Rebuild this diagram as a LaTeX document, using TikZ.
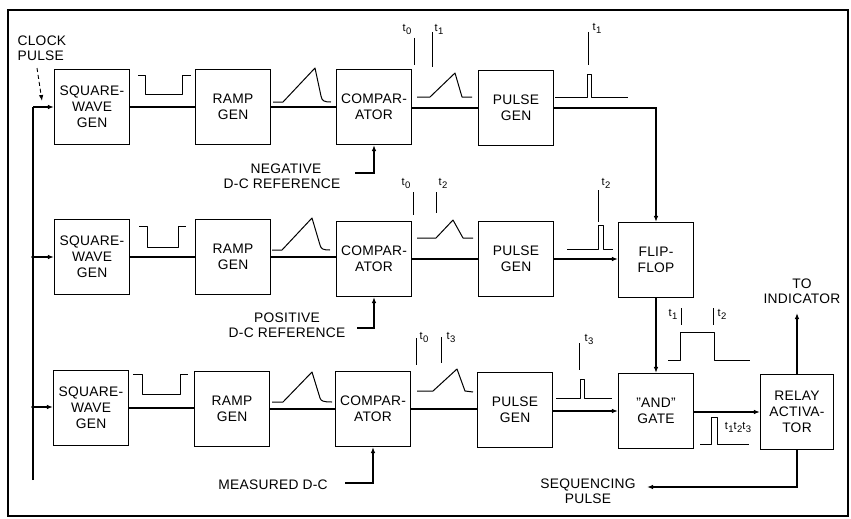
\documentclass[tikz,border=0pt]{standalone}
\usepackage{fontspec}
\setmainfont{Liberation Sans}[LetterSpace=2]
\usetikzlibrary{arrows.meta}
\newcommand\tlab[1]{t\kern0.4pt\raisebox{-3pt}{\fontsize{9.5}{9.5}\selectfont #1}}
\begin{document}
\begin{tikzpicture}[x=1pt,y=-1pt, line width=1.1pt,
 box/.style={draw, minimum width=75pt, minimum height=75pt, align=center, inner sep=0pt, font=\fontsize{13.8}{15.8}\selectfont},
 lbl/.style={align=center, inner sep=0pt, font=\fontsize{13.8}{15.5}\selectfont},
 tl/.style={inner sep=0pt, font=\fontsize{11}{11}\selectfont},
 wave/.style={line width=1pt, line join=round},
 arr/.style={-{Latex[length=6pt,width=4.5pt]}}]
\useasboundingbox (0,0) rectangle (851,519);
\draw[line width=1.8pt] (8,10) rectangle (848,516);
% row 1
\node[box] (sq1) at (92,107) {SQUARE-\\WAVE\\GEN};
\node[box] (ramp1) at (233,107) {RAMP\\GEN};
\node[box] (comp1) at (374,107) {COMPAR-\\ATOR};
\node[box] (pulse1) at (516,108) {PULSE\\GEN};
% row 2
\node[box] (sq2) at (92,257) {SQUARE-\\WAVE\\GEN};
\node[box] (ramp2) at (233,257) {RAMP\\GEN};
\node[box] (comp2) at (374,259) {COMPAR-\\ATOR};
\node[box] (pulse2) at (516,259) {PULSE\\GEN};
\node[box] (ff) at (656,260) {FLIP-\\FLOP};
% row 3
\node[box] (sq3) at (91,408) {SQUARE-\\WAVE\\GEN};
\node[box] (ramp3) at (232,409) {RAMP\\GEN};
\node[box] (comp3) at (373,409) {COMPAR-\\ATOR};
\node[box] (pulse3) at (515,410) {PULSE\\GEN};
\node[box] (and) at (656,411) {"AND"\\GATE};
\node[box, minimum width=73pt] (relay) at (797,412) {RELAY\\ACTIVA-\\TOR};
% labels
\node[lbl, align=left, anchor=west] (clk) at (17,48) {CLOCK\\PULSE};
\node[lbl] (negref) at (282,176) {\hspace*{8pt}NEGATIVE\\D-C REFERENCE};
\node[lbl] (posref) at (287,325) {POSITIVE\\D-C REFERENCE};
\node[lbl] (meas) at (273,485) {MEASURED D-C};
\node[lbl] (ind) at (802,291) {TO\\INDICATOR};
\node[lbl] (seq) at (588,491) {SEQUENCING\\PULSE};
% coordinates
\coordinate (bt) at (33,107);
\coordinate (bb) at (33,480);
\coordinate (j2) at (33,257);
\coordinate (j3) at (33,407);
\coordinate (ck1) at (37,68);
\coordinate (ck2) at (42,101);
\coordinate (nref) at (355,173);
\coordinate (pref) at (357,328);
\coordinate (mref) at (345,483);
\coordinate (indtip) at (797,313);
\coordinate (seqtip) at (647,487);
% bus
\draw (bb) -- (bt);
\draw[arr] (bt) -- (bt -| sq1.west);
\draw[arr] (j2) -- (j2 -| sq2.west);
\draw[arr] (j3) -- (j3 -| sq3.west);
\fill (j2) circle (1.8);
\fill (j3) circle (1.8);
\draw[arr, dashed, line width=0.9pt, dash pattern=on 4pt off 3pt] (ck1) -- (ck2);
% signal chain
\draw (sq1.east) -- (sq1.east -| ramp1.west);
\draw (ramp1.east) -- (ramp1.east -| comp1.west);
\draw (comp1.east |- 0,108) -- (pulse1.west);
\draw[arr] (pulse1.east) -| (ff.north);
\draw (sq2.east) -- (sq2.east -| ramp2.west);
\draw (ramp2.east) -- (ramp2.east -| comp2.west);
\draw (comp2.east) -- (comp2.east -| pulse2.west);
\draw[arr] (pulse2.east) -- (pulse2.east -| ff.west);
\draw[arr] (ff.south) -- (ff.south |- and.north);
\draw (sq3.east) -- (sq3.east -| ramp3.west);
\draw (ramp3.east) -- (ramp3.east -| comp3.west);
\draw (comp3.east) -- (comp3.east -| pulse3.west);
\draw[arr] (pulse3.east |- 0,411) -- (and.west |- 0,411);
\draw[arr] (and.east |- 0,412) -- (relay.west);
\draw[arr] (relay.north) -- (indtip);
\draw[arr] (relay.south) |- (seqtip);
\draw[arr] (nref) -| (comp1.south);
\draw[arr] (pref) -| (comp2.south);
\draw[arr] (mref) -| (comp3.south);
% waveforms: square
\draw[wave] (138,75) -- (145,75) -- (145,94) -- (182,94) -- (182,75) -- (191,75);
\draw[wave] (139,226) -- (147,226) -- (147,247) -- (178,247) -- (178,226) -- (186,226);
\draw[wave] (133,374) -- (142,374) -- (142,394) -- (180,394) -- (180,374) -- (188,374);
% ramps
\draw[wave] (273,102) -- (283,102) -- (315,68) -- (321,96) .. controls (322,101) and (324,102) .. (331,102);
\draw[wave] (272,250) -- (282,250) -- (312,218) -- (320,245) .. controls (321,249) and (323,250) .. (330,250);
\draw[wave] (272,402) -- (283,402) -- (312,372) -- (320,398) .. controls (321,401) and (323,402) .. (332,402);
% comparator outputs
\draw[wave] (417,97) -- (430,97) -- (455,73) -- (462,97) -- (472,97);
\draw[wave] (414,38) -- (414,65); \draw[wave] (432,32) -- (432,67);
\draw[wave] (417,238) -- (436,238) -- (453,220) -- (463,238) -- (473,238);
\draw[wave] (413,192) -- (413,215); \draw[wave] (436,192) -- (436,213);
\draw[wave] (417,391) -- (433,391) -- (457,369) -- (465,391) -- (473,392);
\draw[wave] (416,338) -- (416,365); \draw[wave] (441,337) -- (441,363);
% pulse outputs
\draw[wave] (555,97) -- (587,97) -- (587,74) -- (591,74) -- (591,97) -- (628,97);
\draw[wave] (588,32) -- (588,65);
\draw[wave] (567,249) -- (598,249) -- (598,225) -- (603,225) -- (603,249) -- (613,249);
\draw[wave] (598,190) -- (598,222);
\draw[wave] (556,398) -- (580,398) -- (580,379) -- (584,379) -- (584,398) -- (612,398);
\draw[wave] (579,343) -- (579,370);
% flip-flop output
\draw[wave] (668,360) -- (680,360) -- (680,332) -- (714,332) -- (714,360) -- (750,360);
\draw[wave] (681,308) -- (681,325); \draw[wave] (713,308) -- (713,325);
% and output
\draw[wave] (700,444) -- (711,444) -- (711,417) -- (717,417) -- (717,444) -- (749,444);
% time labels
\node[tl] (a0) at (407,29) {\tlab{0}};
\node[tl] (a1) at (439,29) {\tlab{1}};
\node[tl] (a2) at (597,28) {\tlab{1}};
\node[tl] (b0) at (406,183) {\tlab{0}};
\node[tl] (b1) at (443,183) {\tlab{2}};
\node[tl] (b2) at (606,183) {\tlab{2}};
\node[tl] (c0) at (424,337) {\tlab{0}};
\node[tl] (c1) at (451,337) {\tlab{3}};
\node[tl] (c2) at (589,339) {\tlab{3}};
\node[tl] (d1) at (673,314) {\tlab{1}};
\node[tl] (d2) at (722,314) {\tlab{2}};
\node[tl] (e1) at (738,427) {\tlab{1}\tlab{2}\tlab{3}};
\end{tikzpicture}
\end{document}
